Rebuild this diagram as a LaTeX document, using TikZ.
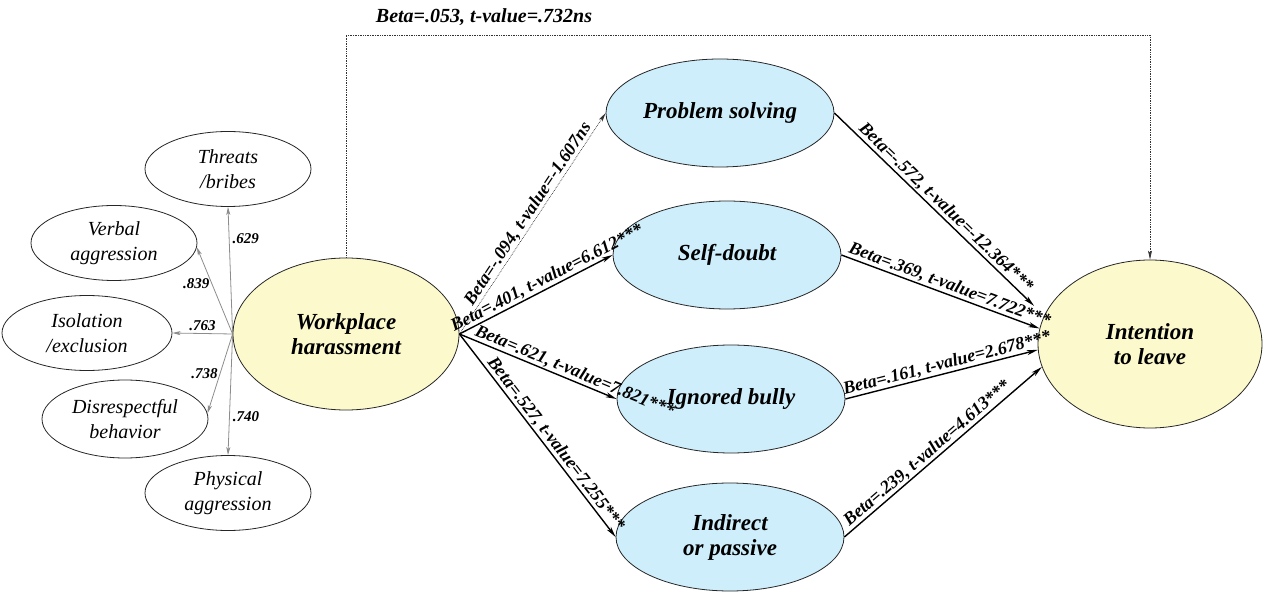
\documentclass[tikz,border=0pt]{standalone}
\usepackage{fontspec}
\setmainfont{Liberation Serif}
\usetikzlibrary{shapes.geometric,arrows.meta,calc}
\definecolor{yelfill}{RGB}{252,250,204}
\definecolor{blufill}{RGB}{206,238,252}
\definecolor{loadgray}{RGB}{140,140,140}
\begin{document}
\begin{tikzpicture}[x=1pt,y=-1pt,
  ell/.style={ellipse, draw=black!85, line width=0.8pt, inner sep=0pt, align=center},
  bigell/.style={ell, font=\fontsize{23}{25}\selectfont\bfseries\itshape},
  smallell/.style={ell, minimum width=166pt, minimum height=75pt, font=\fontsize{20}{25}\selectfont\itshape},
  yel/.style={bigell, fill=yelfill},
  blu/.style={bigell, fill=blufill, minimum width=228pt, minimum height=108pt},
  patharr/.style={line width=1.4pt, -{Stealth[length=11pt,width=5pt,inset=3pt]}},
  dotarr/.style={line width=0.7pt, densely dotted, black!80, -{Stealth[length=9pt,width=4pt,inset=2pt]}},
  loadarr/.style={line width=0.8pt, loadgray, -{Stealth[length=8pt,width=4pt,inset=2pt]}},
  elab/.style={font=\fontsize{18}{20}\selectfont\bfseries\itshape, sloped, above, inner sep=1pt, text=black},
  load/.style={font=\fontsize{15}{17}\selectfont\bfseries\itshape, inner sep=1pt, text=black},
  toplab/.style={font=\fontsize{20}{22}\selectfont\bfseries\itshape, inner sep=0pt}
]
\useasboundingbox (0,0) rectangle (1263,593);

% main constructs
\node[yel, minimum width=226pt, minimum height=152pt] (WH) at (346,334) {Workplace\\harassment};
\node[yel, minimum width=224pt, minimum height=168pt] (IL) at (1150,344) {Intention\\to leave};
\node[blu] (PS) at (720,113) {Problem solving};
\node[blu] (SD) at (727,255) {Self-doubt};
\node[blu] (IB) at (731,399) {Ignored bully};
\node[blu] (IP) at (730,537) {Indirect\\or passive};

% indicators
\node[smallell] (TB) at (228,169) {Threats\\/bribes};
\node[smallell] (VA) at (114,243) {Verbal\\aggression};
\node[smallell, minimum width=170pt] (IE) at (87,333) {Isolation\\/exclusion};
\node[smallell, minimum height=78pt] (DB) at (125,419) {Disrespectful\\behavior};
\node[smallell] (PA) at (228,493) {Physical\\aggression};

% loadings
\draw[loadarr] (WH.west) -- node[load, pos=.75, right=2pt] {.629} (TB.south);
\draw[loadarr] (WH.west) -- node[load, pos=.58, left=1pt] {.839} (VA.-3);
\draw[loadarr] (WH.west) -- node[load, pos=.5, above=1pt] {.763} (IE.east);
\draw[loadarr] (WH.west) -- node[load, pos=.5, left=1pt] {.738} (DB.4);
\draw[loadarr] (WH.west) -- node[load, pos=.68, right=2pt] {.740} (PA.north);

% direct effect (top)
\coordinate (tl) at (346,35);
\coordinate (tr) at (1150,35);
\draw[dotarr] (WH.north) -- (tl) -- (tr) -- (IL.north);
\node[toplab] (toplabel) at (484,17) {Beta=.053, t-value=.732ns};

% paths from workplace harassment
\draw[dotarr] (WH.east) -- node[elab, pos=.52] {Beta=-.094, t-value=-1.607ns} (PS.west);
\draw[patharr] (WH.east) -- node[elab, pos=.6] {Beta=.401, t-value=6.612***} (SD.west);
\draw[patharr] (WH.east) -- node[elab, pos=.71] {Beta=.621, t-value=7.821***} (IB.west);
\draw[patharr] (WH.east) -- node[elab, pos=.57] {Beta=.527, t-value=7.255***} (IP.west);

% paths to intention to leave
\draw[patharr, shorten >=14pt] (PS.east) -- node[elab, pos=.5] {Beta=-.572, t-value=-12.364***} (IL.165);
\draw[patharr] (SD.east) -- node[elab, pos=.53] {Beta=.369, t-value=7.722***} (IL.172);
\draw[patharr] (IB.east) -- node[elab, pos=.54] {Beta=.161, t-value=2.678***} (IL.183);
\draw[patharr] (IP.east) -- node[elab, pos=.45] {Beta=.239, t-value=4.613***} (IL.192);
\end{tikzpicture}
\end{document}
